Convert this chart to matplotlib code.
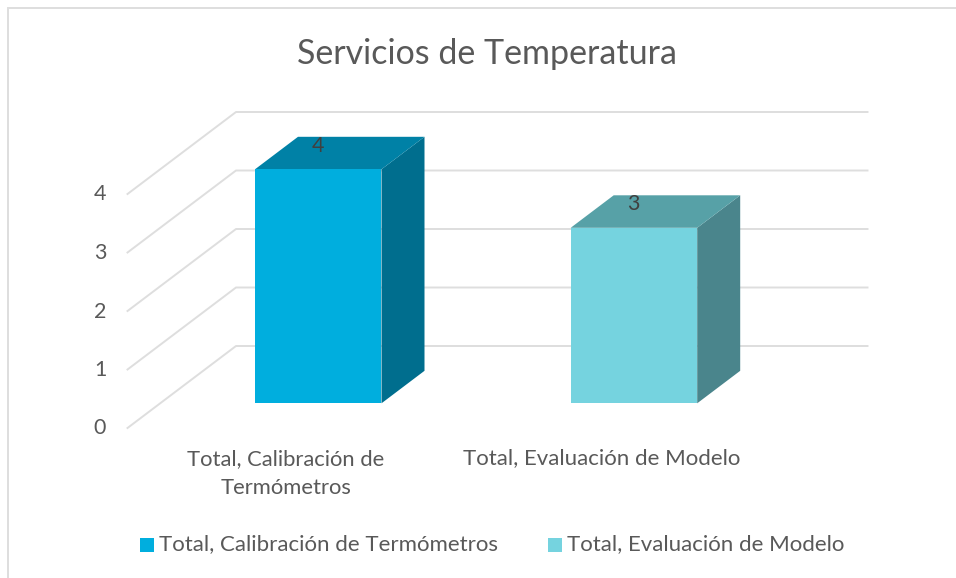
import matplotlib.pyplot as plt
from matplotlib.patches import Polygon, Rectangle

categorias = ['Total, Calibración de\nTermómetros', 'Total, Evaluación de Modelo']
leyenda = ['Total, Calibración de Termómetros', 'Total, Evaluación de Modelo']
valores = [4, 3]
ticks = [0, 1, 2, 3, 4]

color_frente = ['#00AEDE', '#75D3DF']
color_arriba = ['#0081A6', '#57A1A7']
color_lado = ['#006E8E', '#4A858C']

# geometria en pixeles de la imagen
Y0_FRENTE = 428
Y0_BARRA = 403.3
PASO = 58.5
X_IZQ = 127.5
X_FONDO = 236
X_DER = 867.5
DY_FONDO = 82
BARRA_X = [255, 570.7]
BARRA_W = 126.5
PROF_X = 43
PROF_Y = 32.5

plt.rcParams['font.family'] = ['Lato', 'DejaVu Sans']

fig = plt.figure(figsize=(9.56, 5.78), dpi=100)
ax = fig.add_axes([0, 0, 1, 1])
ax.set_xlim(0, 956)
ax.set_ylim(578, 0)
ax.axis('off')

# borde del grafico
ax.plot([8, 8, 956], [578, 8, 8], color='#DEDEDE', lw=1.4, solid_joinstyle='miter')

# rejilla y etiquetas del eje
for t in ticks:
    y = Y0_FRENTE - t * PASO
    ax.plot([X_IZQ, X_FONDO, X_DER], [y, y - DY_FONDO, y - DY_FONDO], color='#DEDEDE', lw=1.4)
    ax.text(100, y + 0.5, str(t), ha='center', va='center', fontsize=15.5, color='#595959')

# barras
for i, v in enumerate(valores):
    x = BARRA_X[i]
    top = Y0_BARRA - v * PASO
    ax.add_patch(Polygon([(x + BARRA_W, top), (x + BARRA_W + PROF_X, top - PROF_Y),
                          (x + BARRA_W + PROF_X, Y0_BARRA - PROF_Y), (x + BARRA_W, Y0_BARRA)],
                         color=color_lado[i], lw=0, zorder=3))
    ax.add_patch(Polygon([(x, top), (x + PROF_X, top - PROF_Y), (x + BARRA_W + PROF_X, top - PROF_Y),
                          (x + BARRA_W, top)], color=color_arriba[i], lw=0, zorder=3))
    ax.add_patch(Rectangle((x, top), BARRA_W, v * PASO, color=color_frente[i], lw=0, zorder=4))
    ax.text(x + BARRA_W / 2 - 0.5, top - 23.5, str(v), ha='center', va='center',
            fontsize=15.5, color='#404040', zorder=5)

# etiquetas de categoria
ax.text(286, 473.5, categorias[0], ha='center', va='center', fontsize=15.8, color='#595959', linespacing=1.5)
ax.text(602, 458.5, categorias[1], ha='center', va='center', fontsize=16, color='#595959')

ax.text(487.5, 54, 'Servicios de Temperatura', ha='center', va='center', fontsize=24.5, color='#595959')

# leyenda
for x_cuadro, x_texto, texto, color in zip([140, 548], [159, 567], leyenda, color_frente):
    ax.add_patch(Rectangle((x_cuadro, 538), 14, 14, color=color, lw=0))
    ax.text(x_texto, 544.5, texto, ha='left', va='center', fontsize=16, color='#595959')

fig.savefig('out.png', dpi=100)
